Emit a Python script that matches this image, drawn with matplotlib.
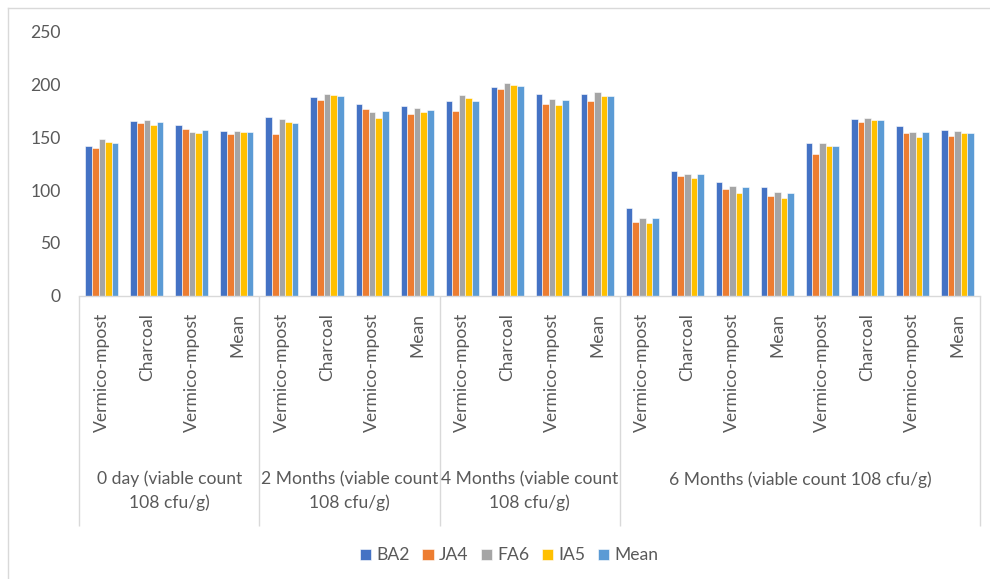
import matplotlib
matplotlib.use("Agg")
import matplotlib.pyplot as plt
from matplotlib.lines import Line2D
import numpy as np

plt.rcParams['font.family'] = ['Lato', 'DejaVu Sans']

groups = ["0 day (viable count\n108 cfu/g)", "2 Months (viable count\n108 cfu/g)",
          "4 Months (viable count\n108 cfu/g)", "6 Months (viable count 108 cfu/g)"]
group_sizes = [4, 4, 4, 8]
subcats = ["Vermico-mpost", "Charcoal", "Vermico-mpost", "Mean",
           "Vermico-mpost", "Charcoal", "Vermico-mpost", "Mean",
           "Vermico-mpost", "Charcoal", "Vermico-mpost", "Mean",
           "Vermico-mpost", "Charcoal", "Vermico-mpost", "Mean",
           "Vermico-mpost", "Charcoal", "Vermico-mpost", "Mean"]
series = ["BA2", "JA4", "FA6", "IA5", "Mean"]
BA2 = [142.0, 165.1, 161.3, 156.0, 168.9, 188.2, 181.2, 179.6, 184.4, 197.3, 191.0, 190.7,
       82.8, 117.8, 108.0, 102.9, 144.6, 167.3, 160.4, 157.2]
JA4 = [139.9, 163.3, 157.6, 153.4, 153.1, 185.3, 176.5, 171.8, 175.2, 195.4, 181.2, 184.1,
       69.8, 113.1, 101.0, 94.4, 134.5, 164.2, 154.1, 150.9]
FA6 = [148.1, 166.1, 155.0, 155.7, 167.3, 191.0, 174.2, 177.7, 190.3, 201.4, 186.3, 192.9,
       73.6, 115.2, 104.2, 97.9, 144.3, 168.6, 154.7, 156.0]
IA5 = [145.3, 162.0, 154.1, 154.7, 164.2, 190.1, 168.3, 174.2, 187.2, 199.5, 180.3, 189.1,
       68.8, 111.7, 97.3, 92.5, 142.0, 166.1, 150.3, 153.8]
MEAN = [144.3, 164.2, 156.9, 155.0, 163.3, 188.8, 174.9, 175.9, 184.4, 198.6, 185.0, 189.1,
        73.6, 114.9, 102.6, 97.3, 141.8, 166.4, 155.0, 154.4]
yticks = [0, 50, 100, 150, 200, 250]

colors = ["#4472C4", "#ED7D31", "#A5A5A5", "#FFC000", "#5B9BD5"]
values = [BA2, JA4, FA6, IA5, MEAN]

FS = 12.6
W, H = 990, 579
fig = plt.figure(figsize=(W / 100, H / 100), dpi=100)
fig.patch.set_facecolor("white")

x0, x1 = 79.3, 980.0
y0, y1 = 295.7, 31.7
ax = fig.add_axes([x0 / W, 1 - y0 / H, (x1 - x0) / W, (y0 - y1) / H])

n = len(subcats)
centers = np.arange(n) + 0.5
bw = 0.1467
for k, (vals, c, name) in enumerate(zip(values, colors, series)):
    offs = (k - 2) * bw
    ax.bar(centers + offs, vals, width=bw, color=c, edgecolor="white",
           linewidth=0.4, label=name)

ax.set_xlim(0, n)
ax.set_ylim(0, 250)
ax.set_yticks(yticks)
ax.set_xticks(centers)
ax.set_xticklabels(subcats, rotation=90, va="top", ha="center")
tc = "#595959"
ax.tick_params(axis="y", length=0, pad=13.5, labelsize=FS, labelcolor=tc)
ax.tick_params(axis="x", length=0, pad=12.5, labelsize=FS, labelcolor=tc)
for s in ["left", "right", "top"]:
    ax.spines[s].set_visible(False)
ax.spines["bottom"].set_color("#D9D9D9")
ax.spines["bottom"].set_linewidth(1.0)

axh = y0 - y1
bounds = np.concatenate([[0], np.cumsum(group_sizes)])
ax.vlines(bounds, 0, (y0 - 526) / axh, transform=ax.get_xaxis_transform(),
          colors="#D9D9D9", linewidth=1.0, clip_on=False)
for g, lab in enumerate(groups):
    cx = (bounds[g] + bounds[g + 1]) / 2
    cy = 491.0 if "\n" in lab else 479.5
    ax.text(cx, (y0 - cy) / axh, lab, transform=ax.get_xaxis_transform(),
            ha="center", va="center", fontsize=FS, color=tc, linespacing=1.55)

# outer chart border
fig.add_artist(Line2D([7.5 / W, 1], [1 - 7.5 / H, 1 - 7.5 / H], color="#D9D9D9", lw=1.0))
fig.add_artist(Line2D([7.5 / W, 7.5 / W], [0, 1 - 7.5 / H], color="#D9D9D9", lw=1.0))

handles, labels = ax.get_legend_handles_labels()
fig.legend(handles, labels, loc="center", bbox_to_anchor=(509 / W, 1 - 555.5 / H),
           ncol=5, frameon=False, fontsize=FS, handlelength=0.65, handleheight=0.65,
           handletextpad=0.3, columnspacing=0.7, labelcolor=tc)

fig.savefig("out.png", dpi=100, facecolor="white")
